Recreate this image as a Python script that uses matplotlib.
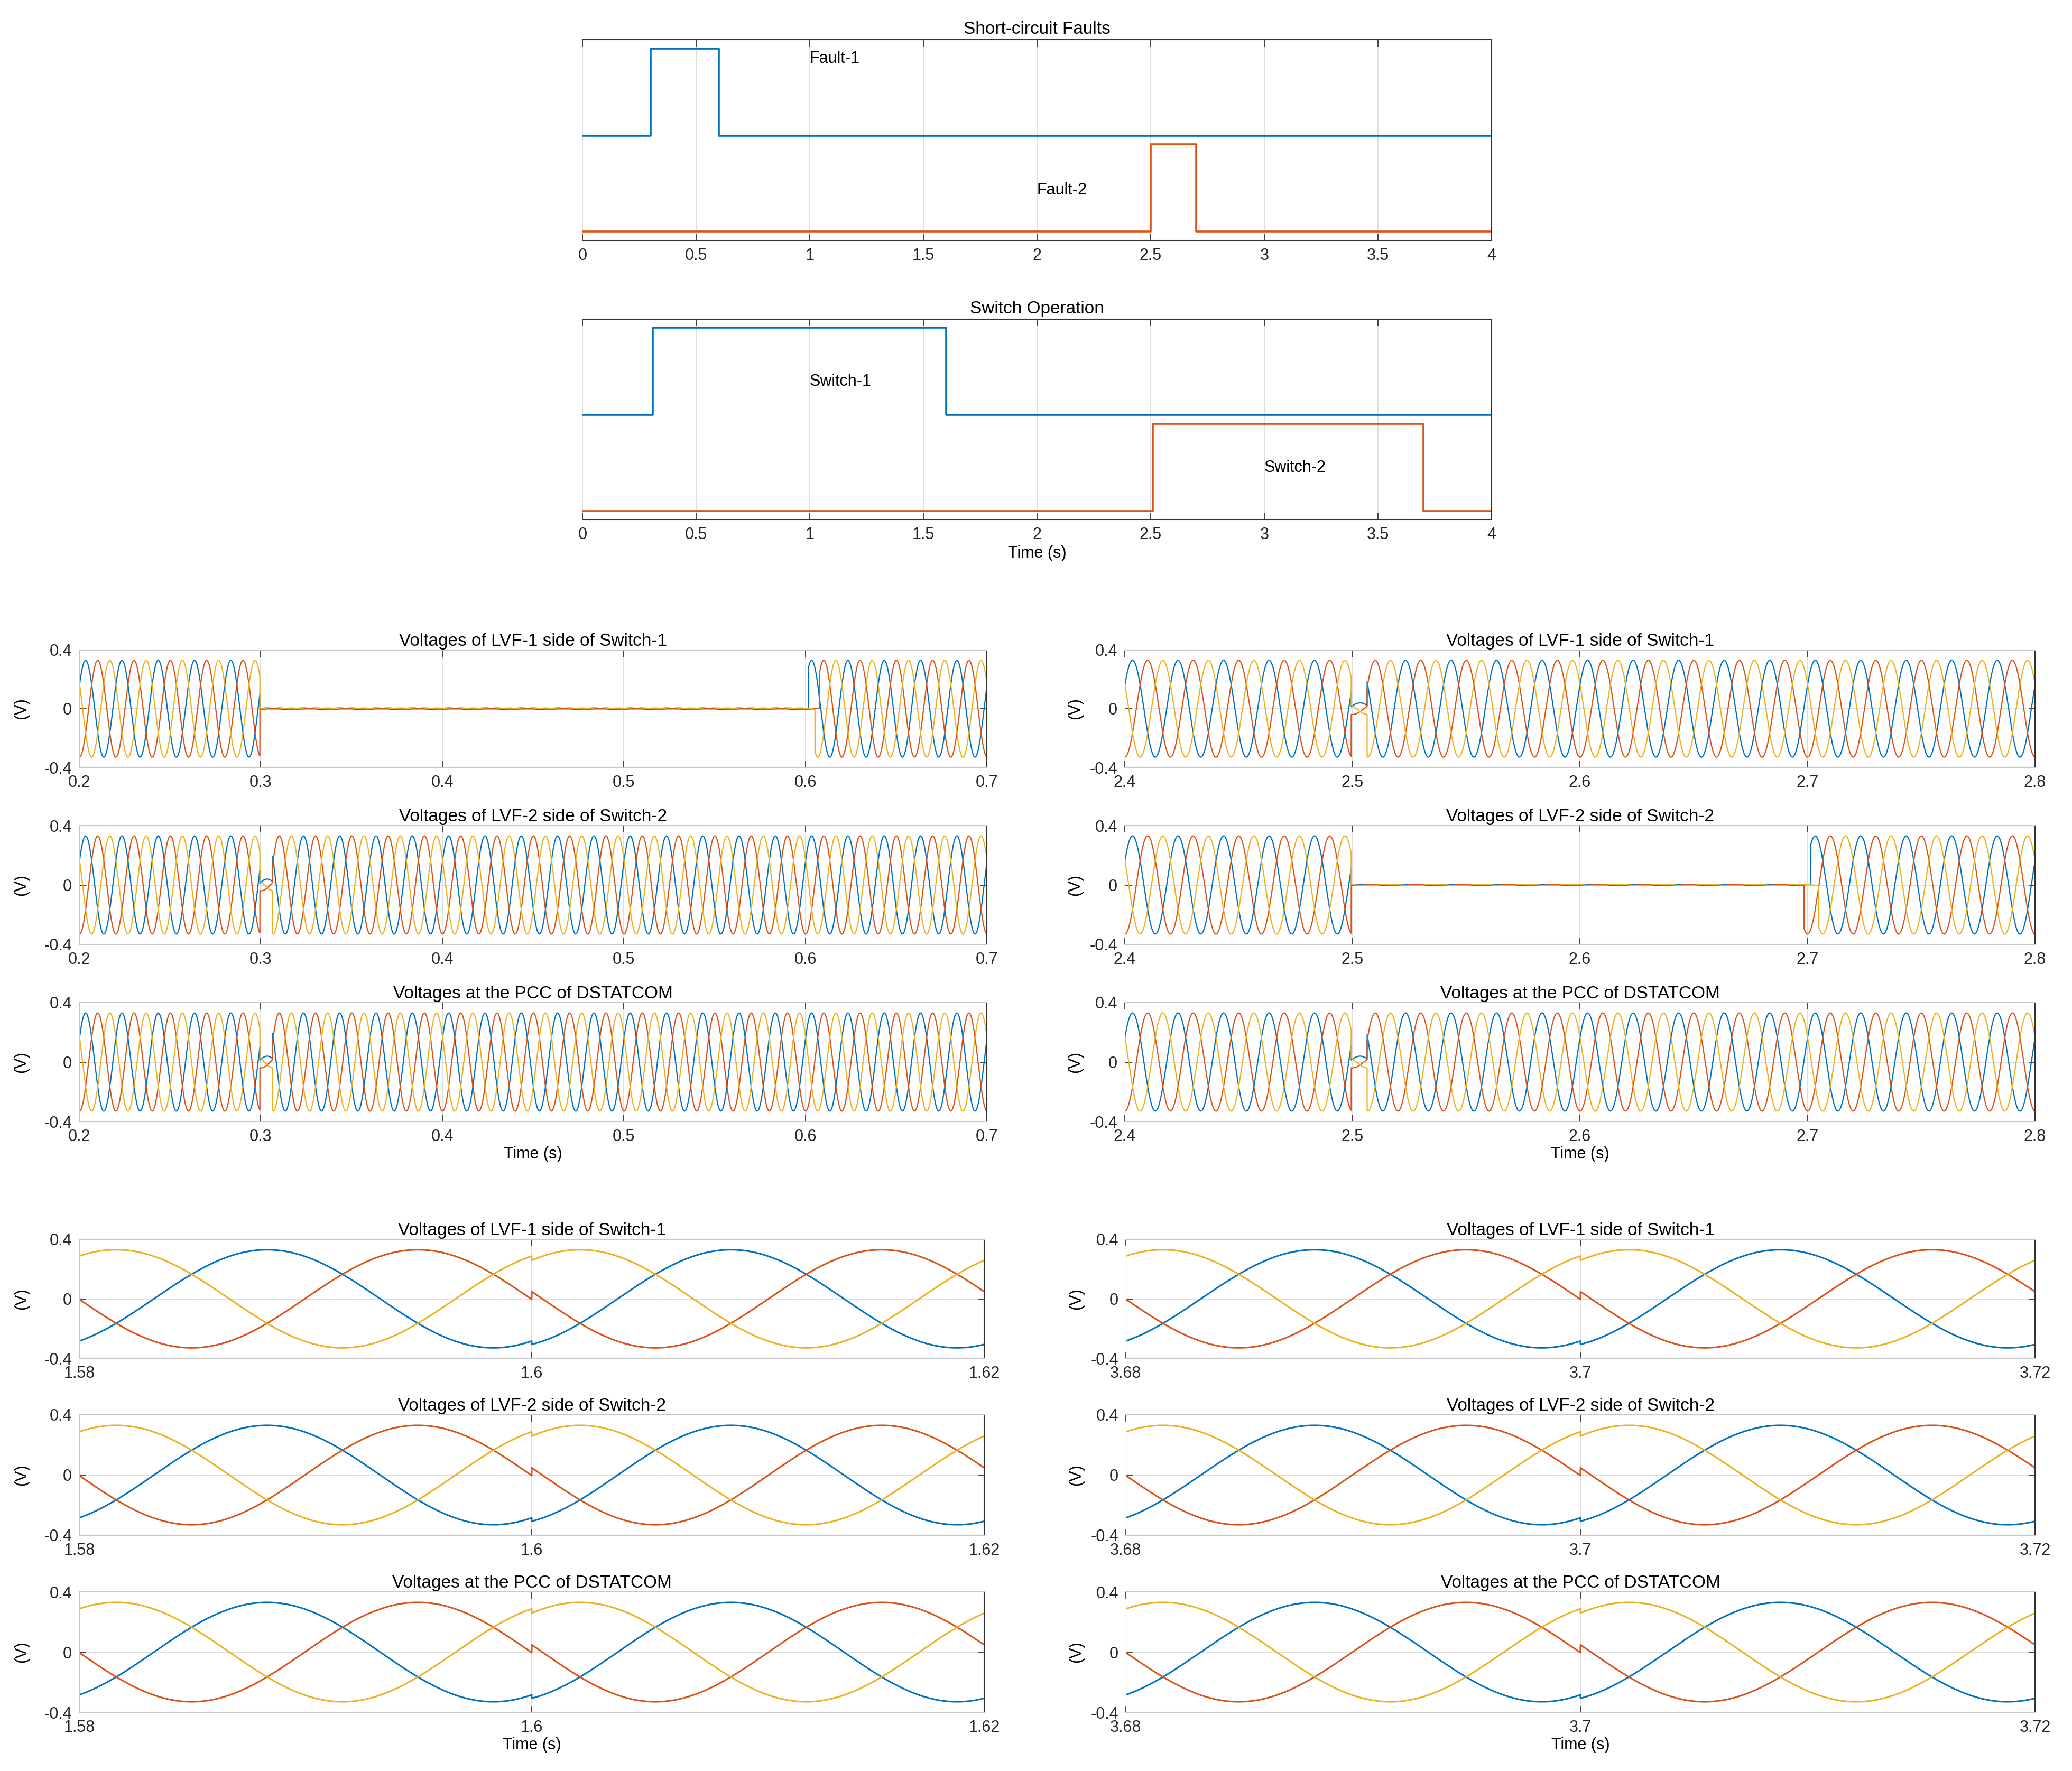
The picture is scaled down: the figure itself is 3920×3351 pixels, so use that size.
import numpy as np
import matplotlib.pyplot as plt
from matplotlib.ticker import FormatStrFormatter

plt.rcParams['font.family'] = ['Liberation Sans', 'DejaVu Sans']

# matlab default line colours
c_blue, c_red, c_yel = '#0072BD', '#D95319', '#EDB120'
phase_colors = [c_blue, c_red, c_yel]

# top panels: fault / switch signals (breakpoints and levels)
fault1_t = [0, 0.3, 0.6, 4]
fault1_v = [0, 1, 0, 0]
fault2_t = [0, 2.5, 2.7, 4]
fault2_v = [0, 1, 0, 0]
switch1_t = [0, 0.31, 1.6, 4]
switch1_v = [0, 1, 0, 0]
switch2_t = [0, 2.51, 3.7, 4]
switch2_v = [0, 1, 0, 0]
upper_offset = 1.1
top_ticks = [0, 0.5, 1, 1.5, 2, 2.5, 3, 3.5, 4]

# three-phase voltages
v_amp = 0.33
f_hz = 50
windows = [(0.2, 0.7), (2.4, 2.8), (1.58, 1.62), (3.68, 3.72)]
win_ticks = [[0.2, 0.3, 0.4, 0.5, 0.6, 0.7],
             [2.4, 2.5, 2.6, 2.7, 2.8],
             [1.58, 1.6, 1.62],
             [3.68, 3.7, 3.72]]
blue_peak = [0.2835, 2.4834, 1.5883, 3.6883]  # a crest of phase a in each window
row_titles = ['Voltages of LVF-1 side of Switch-1',
              'Voltages of LVF-2 side of Switch-2',
              'Voltages at the PCC of DSTATCOM']

# faulted side collapses to ~0 (start, reconnect per phase a/b/c)
lvf1_collapse = 0.2995
lvf1_reconnect = [0.6017, 0.6077, 0.6053]
lvf2_collapse = 2.4995
lvf2_reconnect = [2.7015, 2.6985, 2.7050]
collapse_residual = 0.015
# short dip on the healthy side when the fault begins
dip_left = [0.2995, 0.3065]
dip_right = [2.4995, 2.5065]
dip_scale = 0.12
# small phase jump when the switch recloses
switch_times = [1.6, 3.7]
switch_shift = 0.0005

W, H = 3920, 3351
fig = plt.figure(figsize=(W / 100, H / 100), dpi=100)


def add_ax(x0, x1, ytop, ybot):
    return fig.add_axes([x0 / W, 1 - ybot / H, (x1 - x0) / W, (ybot - ytop) / H])


def style(ax, left_spine=True):
    ax.tick_params(direction='in', top=True, right=True, length=9, width=1.2,
                   labelsize=22, pad=10, colors='#262626')
    ax.grid(True, color='#dcdcdc', lw=1.3)
    ax.set_axisbelow(True)
    for s in ['top', 'bottom', 'right']:
        ax.spines[s].set_color('#333333')
        ax.spines[s].set_linewidth(1.5)
    ax.spines['left'].set_visible(left_spine)
    ax.spines['left'].set_color('#333333')


# ---- top panels ----
tops = [(75, 455, 'Short-circuit Faults', fault1_t, fault1_v, fault2_t, fault2_v,
         [('Fault-1', 1.0, 1.98), ('Fault-2', 2.0, 0.475)]),
        (604, 983, 'Switch Operation', switch1_t, switch1_v, switch2_t, switch2_v,
         [('Switch-1', 1.0, 1.486), ('Switch-2', 3.0, 0.495)])]
for j, (yt, yb, ttl, at, av, bt, bv, labels) in enumerate(tops):
    ax = add_ax(1102, 2822, yt, yb)
    ax.step(at, np.array(av) + upper_offset, where='post', color=c_blue, lw=2.6)
    ax.step(bt, bv, where='post', color=c_red, lw=2.6)
    ax.set_xlim(0, 4)
    ax.set_ylim(-0.1, 2.2)
    ax.set_xticks(top_ticks)
    ax.xaxis.set_major_formatter(FormatStrFormatter('%g'))
    ax.set_yticks([])
    style(ax, left_spine=False)
    ax.set_title(ttl, fontsize=24, pad=8)
    for txt, x, y in labels:
        ax.text(x, y, txt, fontsize=22, va='center')
    if j == 1:
        ax.set_xlabel('Time (s)', fontsize=22, labelpad=4)


def phases(t, peak):
    return [v_amp * np.cos(2 * np.pi * f_hz * (t - peak) - 2 * np.pi * k / 3) for k in range(3)]


def panel_wave(i, row):
    t0, t1 = windows[i]
    t = np.linspace(t0, t1, 15000)
    peak = np.full_like(t, blue_peak[i])
    if i >= 2:
        peak[t >= switch_times[i - 2]] += switch_shift
    v = phases(t, peak)
    if i == 0 and row == 0:
        for k in range(3):
            m = (t >= lvf1_collapse) & (t < lvf1_reconnect[k])
            v[k][m] *= collapse_residual
    if i == 0 and row > 0:
        m = (t >= dip_left[0]) & (t < dip_left[1])
        for k in range(3):
            v[k][m] *= dip_scale
    if i == 1 and row == 1:
        for k in range(3):
            m = (t >= lvf2_collapse) & (t < lvf2_reconnect[k])
            v[k][m] *= collapse_residual
    if i == 1 and row != 1:
        m = (t >= dip_right[0]) & (t < dip_right[1])
        for k in range(3):
            v[k][m] *= dip_scale
    return t, v


# ---- waveform panels ----
col_x = [(150, 1867), (2128, 3850), (150, 1862), (2130, 3850)]
row_y = [[(1230, 1452), (1562, 1787), (1897, 2122)],
         [(1230, 1452), (1562, 1787), (1897, 2122)],
         [(2345, 2570), (2677, 2905), (3012, 3240)],
         [(2345, 2570), (2677, 2905), (3012, 3240)]]
for i in range(4):
    x0, x1 = col_x[i]
    lw = 1.6 if i < 2 else 2.2
    for row in range(3):
        yt, yb = row_y[i][row]
        ax = add_ax(x0, x1, yt, yb)
        t, v = panel_wave(i, row)
        for k in range(3):
            ax.plot(t, v[k], color=phase_colors[k], lw=lw)
        ax.set_xlim(*windows[i])
        ax.set_ylim(-0.4, 0.4)
        ax.set_xticks(win_ticks[i])
        ax.set_yticks([-0.4, 0, 0.4])
        ax.xaxis.set_major_formatter(FormatStrFormatter('%g'))
        ax.yaxis.set_major_formatter(FormatStrFormatter('%g'))
        style(ax)
        for s in ['top', 'left', 'bottom']:
            ax.spines[s].set_color('#c8c8c8')
        ax.set_title(row_titles[row], fontsize=24, pad=6)
        ax.set_ylabel('(V)', fontsize=22)
        ax.yaxis.set_label_coords(-0.055 if i % 2 == 0 else -0.046, 0.5)
        if row == 2:
            ax.set_xlabel('Time (s)', fontsize=22, labelpad=2)

fig.savefig('out.png', dpi=100)
